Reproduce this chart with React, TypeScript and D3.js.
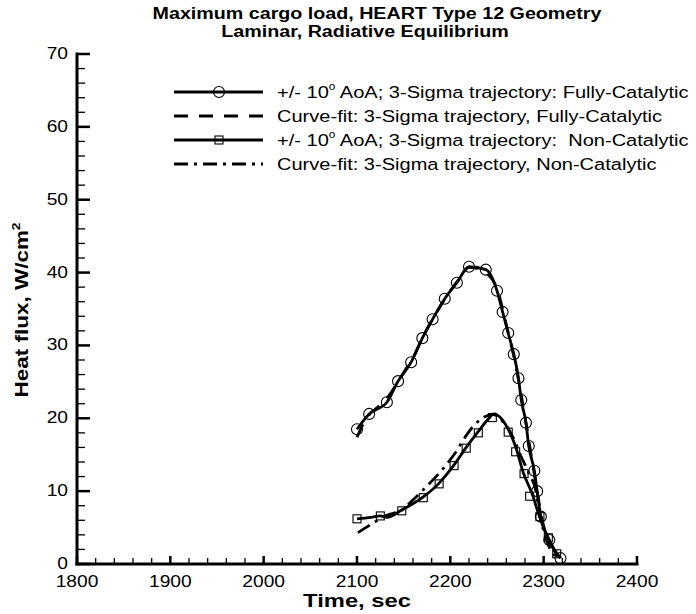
import React from "react";
import * as d3 from "d3";

// ---------- data ----------
const fcTime = [2100, 2113, 2132, 2144, 2158, 2170, 2181, 2194, 2207, 2220, 2238, 2250, 2256, 2262, 2268, 2273, 2276, 2281, 2284, 2290, 2293, 2297, 2306, 2318];
const fcHeat = [18.5, 20.6, 22.2, 25.1, 27.7, 31.0, 33.6, 36.4, 38.6, 40.8, 40.4, 37.5, 34.6, 31.7, 28.8, 25.5, 22.5, 19.4, 16.2, 12.8, 10.0, 6.5, 3.3, 0.8];

const fcFitTime = [2100, 2110, 2120, 2130, 2140, 2150, 2160, 2170, 2180, 2190, 2200, 2210, 2220, 2230, 2240, 2250, 2260, 2270, 2280, 2290, 2300, 2310, 2318];
const fcFitHeat = [17.4, 20.0, 21.3, 22.4, 24.2, 26.3, 28.3, 31.0, 33.4, 35.5, 37.5, 39.2, 40.7, 40.5, 39.8, 37.8, 32.8, 27.3, 20.2, 12.3, 5.2, 2.2, 0.8];

const ncTime = [2100, 2125, 2148, 2171, 2188, 2204, 2217, 2230, 2245, 2262, 2270, 2279, 2285, 2296, 2305, 2314];
const ncHeat = [6.2, 6.6, 7.3, 9.1, 11.0, 13.5, 15.9, 18.0, 20.1, 18.1, 15.4, 12.4, 9.3, 6.5, 3.6, 1.4];

const ncLineTime = [2100, 2115, 2125, 2132, 2148, 2171, 2188, 2204, 2217, 2230, 2240, 2247, 2255, 2262, 2270, 2278, 2288, 2296, 2307, 2315];
const ncLineHeat = [6.2, 6.4, 6.6, 6.4, 7.4, 9.2, 11.1, 13.6, 16.0, 18.2, 19.8, 20.6, 19.9, 18.5, 16.1, 12.6, 9.5, 6.3, 3.0, 1.0];

const ncFitTime = [2101, 2117, 2132, 2148, 2160, 2171, 2189, 2205, 2219, 2224, 2234, 2246, 2256, 2267, 2275, 2285, 2291, 2296, 2305, 2312];
const ncFitHeat = [4.3, 5.6, 6.7, 7.4, 8.8, 10.2, 12.6, 15.2, 18.0, 18.8, 20.0, 20.5, 19.6, 17.4, 15.0, 12.2, 10.4, 6.7, 2.6, 1.1];

const xMajorTicks = [1800, 1900, 2000, 2100, 2200, 2300, 2400];
const yMajorTicks = [0, 10, 20, 30, 40, 50, 60, 70];

const titleLines = ["Maximum cargo load, HEART Type 12 Geometry", "Laminar, Radiative Equilibrium"];
const legendItems = [
  { pre: "+/- 10", sup: "o", post: " AoA; 3-Sigma trajectory: Fully-Catalytic", dash: "", marker: "circle" },
  { pre: "Curve-fit: 3-Sigma trajectory, Fully-Catalytic", sup: "", post: "", dash: "14,11", marker: "" },
  { pre: "+/- 10", sup: "o", post: " AoA; 3-Sigma trajectory:  Non-Catalytic", dash: "", marker: "square" },
  { pre: "Curve-fit: 3-Sigma trajectory, Non-Catalytic", sup: "", post: "", dash: "14,6,3,6", marker: "" },
];

const FONT = '"Liberation Sans", Arial, Helvetica, sans-serif';

function SText({ x, y, size, sx = 1.2, anchor = "start", weight = "normal", rotate = 0, children }: any) {
  return (
    <g transform={`translate(${x},${y}) rotate(${rotate}) scale(${sx},1)`}>
      <text x={0} y={0} fontSize={size} fontFamily={FONT} fontWeight={weight} textAnchor={anchor} fill="#000" style={{ whiteSpace: "pre" }}>
        {children}
      </text>
    </g>
  );
}

export default function App() {
  const W = 696, H = 614;
  const x = d3.scaleLinear().domain([1800, 2400]).range([77, 637]);
  const y = d3.scaleLinear().domain([0, 70]).range([564, 54]);

  const xMinor = d3.range(1800, 2401, 20).filter((v) => v % 100 !== 0);
  const yMinor = d3.range(0, 71, 2).filter((v) => v % 10 !== 0);

  const mk = (ts: number[], hs: number[], curve: any) =>
    d3.line<number>().x((_, i) => x(ts[i])).y((_, i) => y(hs[i])).curve(curve)(ts) || "";

  const fcPath = mk(fcTime, fcHeat, d3.curveMonotoneX);
  const fcFitPath = mk(fcFitTime, fcFitHeat, d3.curveMonotoneX);
  const ncPath = mk(ncLineTime, ncLineHeat, d3.curveMonotoneX);
  const ncFitPath = mk(ncFitTime, ncFitHeat, d3.curveMonotoneX);

  const x0 = x(1800), x1 = x(2400), y0 = y(0), y1 = y(70);
  const sq = 8;

  return (
    <svg width={W} height={H} style={{ position: "absolute", left: 0, top: 0, background: "#fff" }}>
      <rect x={0} y={0} width={W} height={H} fill="#fff" />
      {/* title */}
      <SText x={377} y={19} size={16} sx={1.23} anchor="middle" weight="bold">{titleLines[0]}</SText>
      <SText x={365} y={37} size={16} sx={1.23} anchor="middle" weight="bold">{titleLines[1]}</SText>

      {/* axes */}
      <line x1={x0} x2={x0} y1={y1} y2={y0} stroke="#000" strokeWidth={3} strokeLinecap="square" />
      <line x1={x0} x2={x1} y1={y0} y2={y0} stroke="#000" strokeWidth={3} strokeLinecap="square" />
      {xMajorTicks.map((t) => (
        <g key={"xm" + t}>
          <line x1={x(t)} x2={x(t)} y1={y0} y2={y0 - 8} stroke="#000" strokeWidth={2.5} />
          <SText x={x(t)} y={587} size={16} sx={1.2} anchor="middle">{String(t)}</SText>
        </g>
      ))}
      {xMinor.map((t) => (
        <line key={"xn" + t} x1={x(t)} x2={x(t)} y1={y0} y2={y0 - 6} stroke="#000" strokeWidth={1.3} />
      ))}
      {yMajorTicks.map((v) => (
        <g key={"ym" + v}>
          <line x1={x0} x2={x0 + 13} y1={y(v)} y2={y(v)} stroke="#000" strokeWidth={2.5} />
          <SText x={68} y={y(v) + 5} size={16} sx={1.2} anchor="end">{String(v)}</SText>
        </g>
      ))}
      {yMinor.map((v) => (
        <line key={"yn" + v} x1={x0} x2={x0 + 8} y1={y(v)} y2={y(v)} stroke="#000" strokeWidth={1.3} />
      ))}

      {/* axis titles */}
      <SText x={357} y={607} size={19} sx={1.25} anchor="middle" weight="bold">Time, sec</SText>
      <g transform={`translate(28,310) rotate(-90) scale(1.25,1)`}>
        <text x={0} y={0} fontSize={18} fontFamily={FONT} fontWeight="bold" textAnchor="middle">
          Heat flux, W/cm<tspan fontSize={11} dy={-8}>2</tspan>
        </text>
      </g>

      {/* data lines */}
      <path d={fcFitPath} fill="none" stroke="#000" strokeWidth={2.8} strokeDasharray="14,11" />
      <path d={ncFitPath} fill="none" stroke="#000" strokeWidth={2.8} strokeDasharray="14,6,3,6" />
      <path d={fcPath} fill="none" stroke="#000" strokeWidth={2.8} />
      <path d={ncPath} fill="none" stroke="#000" strokeWidth={2.8} />

      {fcTime.map((t, i) => (
        <circle key={"c" + i} cx={x(t)} cy={y(fcHeat[i])} r={5.5} fill="none" stroke="#000" strokeWidth={1.1} />
      ))}
      {ncTime.map((t, i) => (
        <rect key={"s" + i} x={x(t) - sq / 2} y={y(ncHeat[i]) - sq / 2} width={sq} height={sq} fill="none" stroke="#000" strokeWidth={1.1} />
      ))}

      {/* legend */}
      {legendItems.map((it, i) => {
        const ly = 92 + i * 24;
        return (
          <g key={"lg" + i}>
            <line x1={174} x2={263} y1={ly} y2={ly} stroke="#000" strokeWidth={2.8} strokeDasharray={it.dash || undefined} />
            {it.marker === "circle" && <circle cx={219} cy={ly} r={5.5} fill="none" stroke="#000" strokeWidth={1.1} />}
            {it.marker === "square" && <rect x={219 - sq / 2} y={ly - sq / 2} width={sq} height={sq} fill="none" stroke="#000" strokeWidth={1.1} />}
            <g transform={`translate(277,${ly + 6}) scale(1.18,1)`}>
              <text x={0} y={0} fontSize={17} fontFamily={FONT} style={{ whiteSpace: "pre" }}>
                {it.pre}
                {it.sup && <tspan fontSize={10} dy={-8}>{it.sup}</tspan>}
                {it.post && <tspan dy={it.sup ? 8 : 0}>{it.post}</tspan>}
              </text>
            </g>
          </g>
        );
      })}
    </svg>
  );
}
